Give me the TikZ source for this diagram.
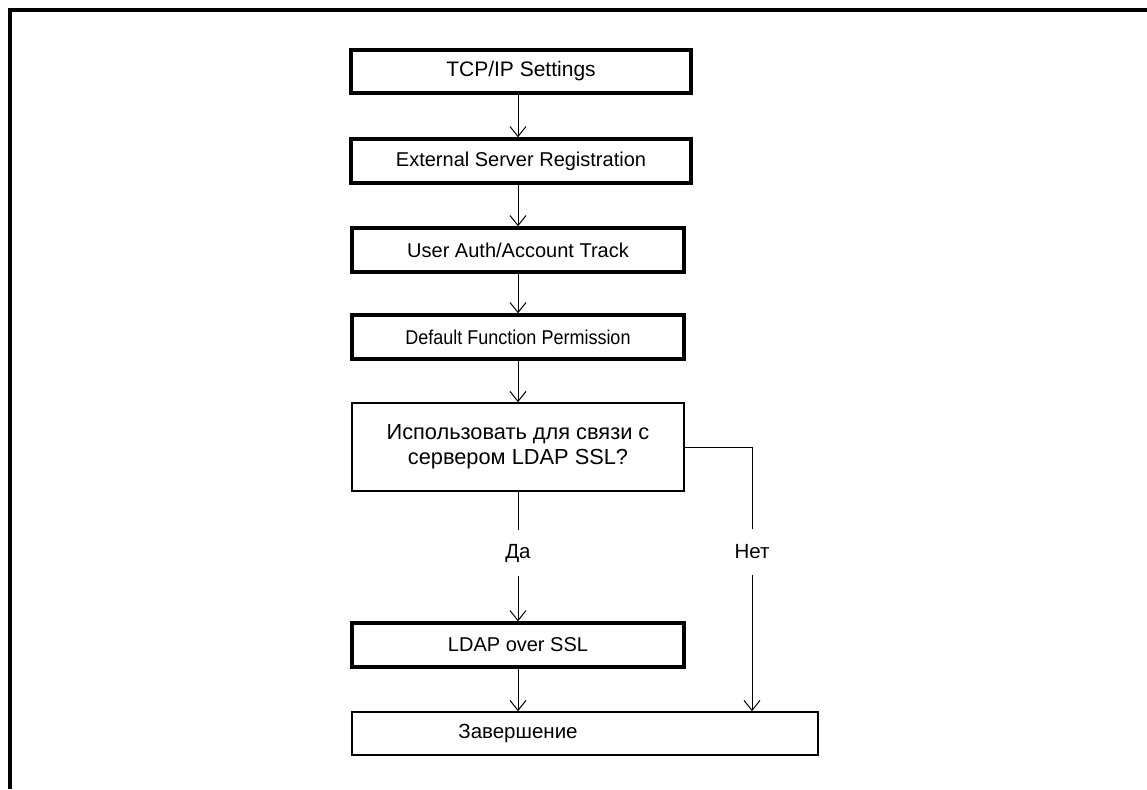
\documentclass[tikz,border=0pt]{standalone}
\usepackage{fontspec}
\setmainfont{Liberation Sans}
\usetikzlibrary{arrows.meta}
\begin{document}
\begin{tikzpicture}[x=1pt,y=-1pt,
  thickbox/.style={draw, line width=3.4pt, minimum height=44pt, inner sep=0pt, font=\fontsize{20}{24}\selectfont},
  thinbox/.style={draw, line width=1.6pt, inner sep=0pt, font=\fontsize{21.8}{26}\selectfont},
  flow/.style={line width=1pt, -{Straight Barb[length=10pt,width=16pt]}},
  plain/.style={line width=1pt},
  lbl/.style={inner sep=0pt, minimum height=46pt, font=\fontsize{20.5}{24}\selectfont}]
\useasboundingbox (0,0) rectangle (1147,789);
\draw[line width=3.4pt] (10,789) -- (10,10) -- (1147,10);

\node[thickbox, minimum width=340pt, minimum height=43pt, font=\fontsize{21}{25}\selectfont] (b1) at (521,71.5) {TCP/IP Settings};
\node[thickbox, minimum width=340pt] (b2) at (521,161) {External Server Registration};
\node[thickbox, minimum width=332pt] (b3) at (518,250) {User Auth/Account Track};
\node[thickbox, minimum width=332pt] (b4) at (518,337) {\scalebox{0.9}[1]{Default Function Permission}};
\node[thinbox, minimum width=332pt, minimum height=88pt, align=center] (q) at (518,447) {Использовать для связи с\\[-0.5pt]сервером LDAP SSL?};
\node[thickbox, minimum width=332pt] (ldap) at (518,645) {LDAP over SSL};
\node[thinbox, minimum width=466pt, minimum height=43pt] (fin) at (585,733.5) {};
\node[lbl] (fint) at (518,733.5) {Завершение};

\node[lbl] (da) at (518,553) {Да};
\node[lbl] (net) at (752,552) {Нет};
\coordinate (nc) at (752,447);

\draw[flow] (b1.south -| q.center) -- (b2.north -| q.center);
\draw[flow] (b2.south -| q.center) -- (b3.north);
\draw[flow] (b3.south) -- (b4.north);
\draw[flow] (b4.south) -- (q.north);
\draw[plain] (q.south) -- (da.north);
\draw[flow] (da.south) -- (ldap.north);
\draw[flow] (ldap.south) -- (fin.north -| ldap.south);
\draw[plain] (q.east) -- (nc) -- (net.north);
\draw[flow] (net.south) -- (fin.north -| net.south);
\end{tikzpicture}
\end{document}
